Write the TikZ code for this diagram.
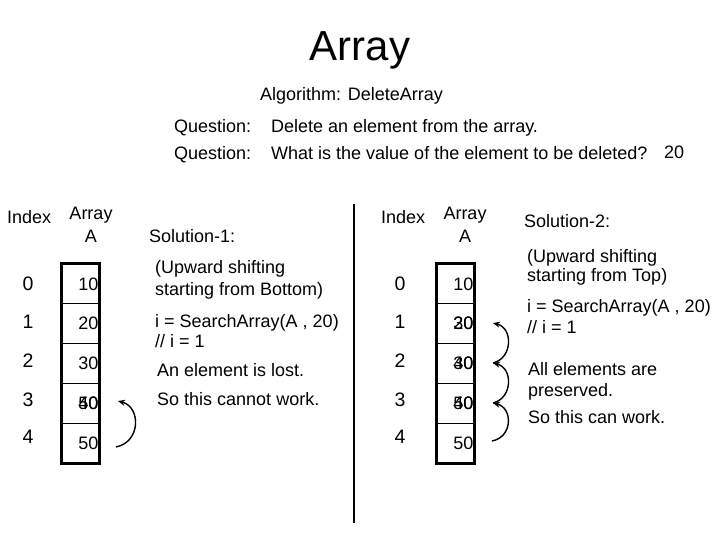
\documentclass[tikz,border=0pt]{standalone}
\usepackage{fontspec}
\setmainfont{Liberation Sans}
\usetikzlibrary{arrows.meta}
\begin{document}
\begin{tikzpicture}[x=1pt,y=-1pt,
  txt/.style={anchor=base west, inner sep=0pt, font=\fontsize{18}{21}\selectfont},
  ctxt/.style={anchor=base, inner sep=0pt, font=\fontsize{18}{21}\selectfont},
  idx/.style={anchor=base, inner sep=0pt, font=\fontsize{19.5}{23}\selectfont},
  cell/.style={draw, line width=1.3pt, minimum width=37pt, minimum height=39.8pt, inner sep=0pt,
    text width=36pt, align=right, font=\fontsize{18}{21}\selectfont},
  cellover/.style={minimum width=37pt, minimum height=39.8pt, inner sep=0pt,
    text width=36pt, align=right, font=\fontsize{18}{21}\selectfont},
  frame/.style={line width=2.6pt},
  arr/.style={line width=1.4pt, -{Stealth[length=7pt,width=6pt]}}]
\useasboundingbox (0,0) rectangle (720,540);
% title
\node[anchor=base, inner sep=0pt, font=\fontsize{42}{48}\selectfont] (title) at (360,61) {Array};
\node[txt] (algo) at (260,101) {Algorithm: DeleteArray};
\node[txt] (q1) at (174,133) {Question:};
\node[txt] (q1t) at (271,133) {Delete an element from the array.};
\node[txt] (q2) at (174,160) {Question:};
\node[txt] (q2t) at (271,160) {What is the value of the element to be deleted?};
\node[txt] (q2v) at (664,159) {20};
% left array
\node[txt] (lidx) at (7,224) {Index};
\node[ctxt] (lar1) at (91,219) {Array};
\node[ctxt] (lar2) at (91,242) {A};
\foreach \i/\y in {0/290,1/328,2/367,3/406,4/443} {\node[idx] (li\i) at (28,\y) {\i};}
\node[cell] (L0) at (80.5,283.9) {10};
\node[cell] (L1) at (80.5,323.7) {20};
\node[cell] (L2) at (80.5,363.5) {30};
\node[cell] (L3) at (80.5,403.3) {40};
\node[cellover] (L3b) at (80.5,403.3) {50};
\node[cell] (L4) at (80.5,443.1) {50};
\draw[frame] (L0.north west) rectangle (L4.south east);
\coordinate (la0) at (116,447);
\coordinate (la1) at (118,401);
\draw[arr] (la0) .. controls (141,442) and (141,407) .. (la1);
% solution 1
\node[txt] (s1) at (149,243) {Solution-1:};
\node[txt] (s1a) at (155,273) {(Upward shifting};
\node[txt] (s1b) at (155,295) {starting from Bottom)};
\node[txt] (s1c) at (155,327) {i = SearchArray(A , 20)};
\node[txt] (s1d) at (155,347) {// i = 1};
\node[txt] (s1e) at (157,376) {An element is lost.};
\node[txt] (s1f) at (157,405) {So this cannot work.};
% divider
\coordinate (vt) at (354,204);
\coordinate (vb) at (354,523);
\draw[line width=1.4pt] (vt) -- (vb);
% right array
\node[txt] (ridx) at (381,224) {Index};
\node[ctxt] (rar1) at (465,219) {Array};
\node[ctxt] (rar2) at (465,242) {A};
\foreach \i/\y in {0/290,1/328,2/367,3/406,4/443} {\node[idx] (ri\i) at (400,\y) {\i};}
\node[cell] (R0) at (455.5,283.9) {10};
\node[cell] (R1) at (455.5,323.7) {20};
\node[cellover] (R1b) at (455.5,323.7) {30};
\node[cell] (R2) at (455.5,363.5) {30};
\node[cellover] (R2b) at (455.5,363.5) {40};
\node[cell] (R3) at (455.5,403.3) {40};
\node[cellover] (R3b) at (455.5,403.3) {50};
\node[cell] (R4) at (455.5,443.1) {50};
\draw[frame] (R0.north west) rectangle (R4.south east);
\coordinate (ra0) at (492,441);
\coordinate (ra1) at (493,403);
\coordinate (ra2) at (493,363);
\coordinate (ra3) at (493,323);
\draw[arr] (ra0) .. controls (513,437) and (513,408) .. (ra1);
\draw[arr] (ra1) .. controls (513,398) and (513,368) .. (ra2);
\draw[arr] (ra2) .. controls (513,358) and (513,328) .. (ra3);
% solution 2
\node[txt] (s2) at (524,228) {Solution-2:};
\node[txt] (s2a) at (527,262) {(Upward shifting};
\node[txt] (s2b) at (527,281) {starting from Top)};
\node[txt] (s2c) at (527,312) {i = SearchArray(A , 20)};
\node[txt] (s2d) at (527,333) {// i = 1};
\node[txt] (s2e) at (528,375) {All elements are};
\node[txt] (s2f) at (528,396) {preserved.};
\node[txt] (s2g) at (528,423) {So this can work.};
\end{tikzpicture}
\end{document}
